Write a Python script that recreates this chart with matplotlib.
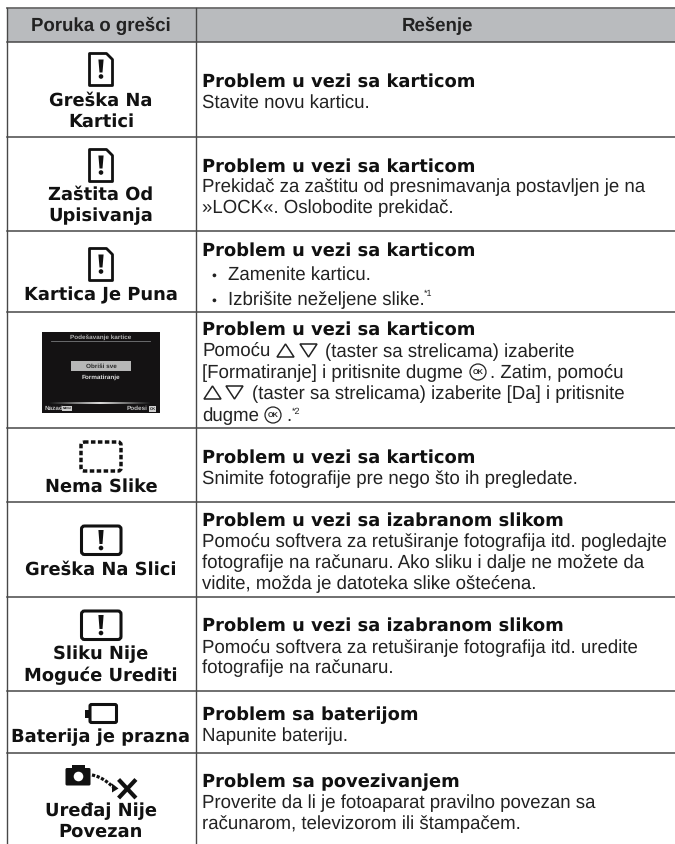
"""Error message table redrawn on a pixel-sized axes."""
import matplotlib
matplotlib.use("Agg")
import matplotlib.pyplot as plt
import numpy as np
from matplotlib.patches import Circle, FancyBboxPatch, Polygon, Rectangle

plt.rcParams["text.hinting"] = "none"

HEADERS = ["Poruka o grešci", "Rešenje"]
MESSAGES = [
    ["Greška Na", "Kartici"],
    ["Zaštita Od", "Upisivanja"],
    ["Kartica Je Puna"],
    [],
    ["Nema Slike"],
    ["Greška Na Slici"],
    ["Sliku Nije", "Moguće Urediti"],
    ["Baterija je prazna"],
    ["Uređaj Nije", "Povezan"],
]
TITLE_CARD = "Problem u vezi sa karticom"
TITLE_IMAGE = "Problem u vezi sa izabranom slikom"
TITLE_BATTERY = "Problem sa baterijom"
TITLE_CONN = "Problem sa povezivanjem"
TITLES = [TITLE_CARD, TITLE_CARD, TITLE_CARD, TITLE_CARD, TITLE_CARD,
          TITLE_IMAGE, TITLE_IMAGE, TITLE_BATTERY, TITLE_CONN]
BODIES = [
    ["Stavite novu karticu."],
    ["Prekidač za zaštitu od presnimavanja postavljen je na",
     "»LOCK«. Oslobodite prekidač."],
    [],
    [],
    ["Snimite fotografije pre nego što ih pregledate."],
    ["Pomoću softvera za retuširanje fotografija itd. pogledajte",
     "fotografije na računaru. Ako sliku i dalje ne možete da",
     "vidite, možda je datoteka slike oštećena."],
    ["Pomoću softvera za retuširanje fotografija itd. uredite",
     "fotografije na računaru."],
    ["Napunite bateriju."],
    ["Proverite da li je fotoaparat pravilno povezan sa",
     "računarom, televizorom ili štampačem."],
]
BULLETS = ["Zamenite karticu.", "Izbrišite neželjene slike."]

# layout, in picture pixels
ROW_EDGES = [41.5, 136.5, 231, 312, 428, 502, 597, 691, 752.5]
MSG_BASE = [[106, 127], [200, 221], [300], [], [492], [575], [659, 681], [742], [816, 837]]
TITLE_BASE = [87, 172, 256, 335, 463, 526, 631, 720, 787]
BODY_BASE = [[108], [192, 213], [], [], [484], [547, 568, 589], [653, 673], [741], [808, 829]]

INK = "#222222"
RULE = "#484848"
SANS = "Liberation Sans"
HEAVY = "DejaVu Sans"
BODY_PT = 13.4
HEAVY_PT = 12.9

fig = plt.figure(figsize=(6.75, 8.44), dpi=100)
ax = fig.add_axes([0, 0, 1, 1])
ax.set_xlim(0, 675)
ax.set_ylim(844, 0)
ax.axis("off")


def body(x, y, s, **kw):
    kw.setdefault("fontsize", BODY_PT)
    ax.text(x, y, s, family=SANS, color=INK, va="baseline", **kw)


def heavy(x, y, s, **kw):
    ax.text(x, y, s, family=HEAVY, weight="bold", color="#111111",
            fontsize=HEAVY_PT, va="baseline", **kw)


def mark(cx, top, bar_h, dot_y):
    ax.add_patch(Polygon([(cx - 2.6, top), (cx + 2.6, top), (cx + 1.5, top + bar_h),
                          (cx - 1.5, top + bar_h)], fc="#111111", ec="none"))
    ax.add_patch(Circle((cx, dot_y), 2.3, fc="#111111", ec="none"))


def card_icon(top):
    x0, x1 = 89.5, 112.5
    y1 = top + 32
    ax.add_patch(Polygon([(x0, top), (x1 - 6, top), (x1, top + 6), (x1, y1), (x0, y1)],
                         closed=True, fc="white", ec="#111111", lw=2.0, joinstyle="round"))
    mark(101, top + 6, 13, top + 23)


def screen_icon(top):
    ax.add_patch(FancyBboxPatch((81.5, top + 1), 39.5, 28.5, boxstyle="round,pad=0,rounding_size=3",
                                fc="white", ec="#111111", lw=2.2))
    mark(101, top + 5, 14, top + 23)


def triangle(x0, x1, base, up=True):
    tip = base - 13 if up else base
    foot = base if up else base - 13
    ax.add_patch(Polygon([(x0, foot), (x1, foot), ((x0 + x1) / 2, tip)], closed=True,
                         fc="none", ec=INK, lw=1.1))


def ok_button(cx, cy):
    ax.add_patch(Circle((cx, cy), 8.0, fc="white", ec=INK, lw=0.9))
    ax.text(cx, cy + 0.3, "OK", family=SANS, weight="bold", fontsize=5.2, color=INK,
            ha="center", va="center")


def dialog():
    ax.add_patch(Rectangle((42, 332), 118, 81, fc="#141213", ec="none"))
    ax.plot([51, 150], [341, 341], color="#77787a", lw=0.6)
    ax.text(101, 337, "Podešavanje kartice", family=SANS, weight="bold", fontsize=4.6,
            color="#b5b5b5", ha="center", va="center")
    ax.add_patch(Rectangle((70.5, 361), 60, 10, fc="#b7b7b7", ec="none"))
    ax.text(101, 366, "Obriši sve", family=SANS, weight="bold", fontsize=4.6, color="#2a2a2a",
            ha="center", va="center")
    ax.text(101, 377, "Formatiranje", family=SANS, weight="bold", fontsize=4.6, color="#e0e0e0",
            ha="center", va="center")
    ramp = np.concatenate([np.linspace(0.1, 0.85, 40), np.linspace(0.85, 0.1, 40)])[None, :]
    ax.imshow(ramp, extent=(50, 150, 403.8, 402.2), cmap="gray", vmin=0, vmax=1,
              aspect="auto", zorder=3)
    ax.text(44.5, 408.5, "Nazad", family=SANS, weight="bold", fontsize=4.6, color="#c4c4c4",
            va="center")
    ax.add_patch(Rectangle((62, 406), 10, 5, fc="#d0d0d0", ec="none"))
    ax.text(67, 408.5, "MENU", family=SANS, weight="bold", fontsize=2.2, color="#222222",
            ha="center", va="center")
    ax.text(147, 408.5, "Podesi", family=SANS, weight="bold", fontsize=4.6, color="#c4c4c4",
            ha="right", va="center")
    ax.add_patch(Rectangle((149, 405.5), 7, 6, fc="#d0d0d0", ec="none"))
    ax.text(152.5, 408.5, "OK", family=SANS, weight="bold", fontsize=3, color="#222222",
            ha="center", va="center")
    ax.set_xlim(0, 675)
    ax.set_ylim(844, 0)


def dashed_icon():
    ax.add_patch(FancyBboxPatch((81, 442), 40, 29, boxstyle="round,pad=0,rounding_size=3",
                                fc="white", ec="#111111", lw=2.5,
                                linestyle=(0, (1.3, 0.7))))


def battery_icon():
    ax.add_patch(FancyBboxPatch((90, 704.5), 26.5, 18, boxstyle="round,pad=0,rounding_size=1.5",
                                fc="white", ec="#111111", lw=2.2))
    ax.add_patch(Rectangle((85, 710), 4, 8, fc="#111111", ec="none"))


def connection_icon():
    ax.add_patch(FancyBboxPatch((65.5, 768), 25, 17.5, boxstyle="round,pad=0,rounding_size=1.5",
                                fc="#111111", ec="none"))
    ax.add_patch(Rectangle((72, 765), 12.5, 4, fc="#111111", ec="none"))
    ax.add_patch(Circle((78.5, 776.5), 4.8, fc="white", ec="none"))
    t = np.linspace(0, 1, 30)
    xs = (1 - t) ** 2 * 92 + 2 * t * (1 - t) * 103 + t ** 2 * 114
    ys = (1 - t) ** 2 * 775 + 2 * t * (1 - t) * 777 + t ** 2 * 788
    ax.plot(xs, ys, color="#111111", lw=2.3, linestyle=(0, (1.0, 0.5)))
    ax.add_patch(Polygon([(112, 783.5), (118.5, 788.5), (112, 792.5)], fc="#111111", ec="none"))
    ax.plot([120, 134.5], [781, 796.5], color="#111111", lw=3.0)
    ax.plot([134.5, 120], [781, 796.5], color="#111111", lw=3.0)


# header band and rules
ax.add_patch(Rectangle((6.5, 8), 668.5, 33.5, fc="#b9bbbe", ec="none"))
ax.plot([6.5, 675], [8, 8], color="#6b6b6b", lw=1.3)
for y in ROW_EDGES:
    ax.plot([6.5, 675], [y, y], color=RULE, lw=1.1)
ax.plot([6.5, 6.5], [8, 844], color=RULE, lw=1.0)
ax.plot([195.5, 195.5], [8, 844], color=RULE, lw=1.0)

ax.text(101, 31, HEADERS[0], family=SANS, weight="bold", fontsize=13.4, color=INK,
        ha="center", va="baseline")
ax.text(437, 31, HEADERS[1], family=SANS, weight="bold", fontsize=13.4, color=INK,
        ha="center", va="baseline")

for lines, bases in zip(MESSAGES, MSG_BASE):
    for line, y in zip(lines, bases):
        heavy(101, y, line, ha="center")

for title, y in zip(TITLES, TITLE_BASE):
    heavy(202, y, title, ha="left")

for lines, bases in zip(BODIES, BODY_BASE):
    for line, y in zip(lines, bases):
        body(202, y, line)

# bullets of the third row
for text, y in zip(BULLETS, [280, 305]):
    body(211, y, "•", fontsize=10)
    body(228, y, text)
body(424, 296, "*1", fontsize=6.5)

# fourth row, text broken around the inline symbols
body(202, 357, "Pomoću")
triangle(277, 294, 357)
triangle(300, 317, 357, up=False)
body(325, 357, "(taster sa strelicama) izaberite")
body(202, 378, "[Formatiranje] i pritisnite dugme")
ok_button(478, 372)
body(490, 378, ". Zatim, pomoću")
triangle(204, 221, 399)
triangle(226, 243, 399, up=False)
body(252, 399, "(taster sa strelicama) izaberite [Da] i pritisnite")
body(202, 421, "dugme")
ok_button(273, 415)
body(286, 421, ".")
body(292, 414, "*2", fontsize=6.5)

# icons of the first column
card_icon(53.5)
card_icon(149.5)
card_icon(248.5)
dialog()
dashed_icon()
screen_icon(525)
screen_icon(610)
battery_icon()
connection_icon()

fig.savefig("out.png", dpi=100)
